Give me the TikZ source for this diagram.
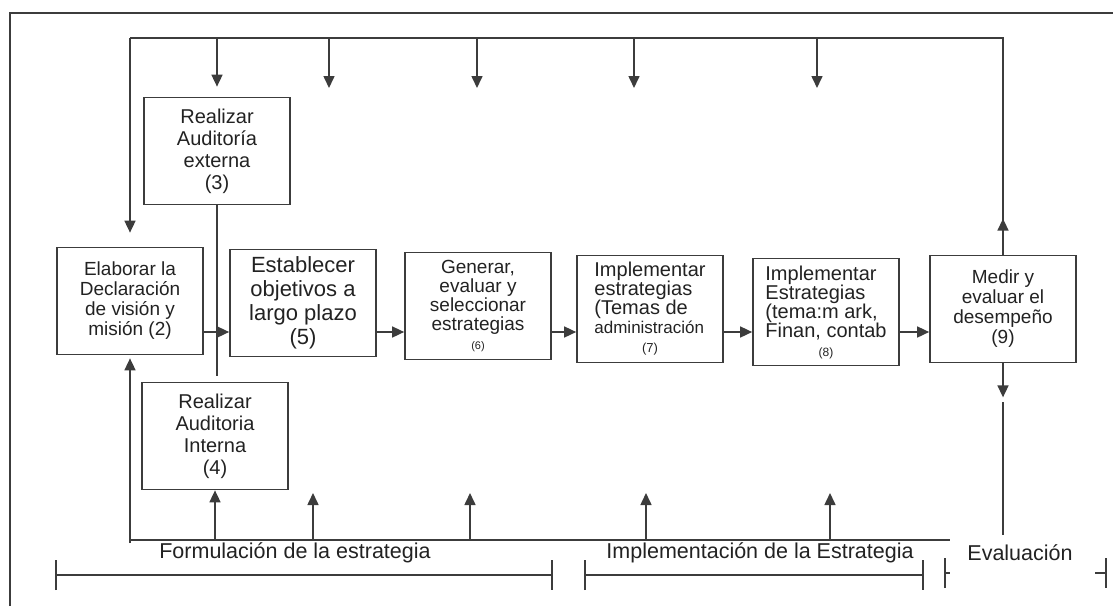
\documentclass[tikz,border=0pt]{standalone}
\usepackage{fontspec}
\setmainfont{Liberation Sans}
\usepackage{xcolor}
\usetikzlibrary{
  positioning,
  calc,
  arrows.meta,
}
\definecolor{linea}{HTML}{3C3C3C}
\definecolor{texto}{HTML}{222222}
\tikzset{
  paso/.style={
    draw=linea,
    line width=1.7pt,
    rectangle,
    minimum width=146pt,
    minimum height=107pt,
    inner sep=2pt,
    align=center,
    text=texto
  },
  flecha/.style={
    draw=linea,
    line width=1.6pt,
    -{Triangle[length=12pt,width=11pt]}
  },
  trazo/.style={
    draw=linea,
    line width=1.6pt
  },
  tramo/.style={
    draw=linea,
    line width=1.6pt,
    {Bar[width=30pt]}-{Bar[width=30pt]}
  },
  etapa/.style={
    font=\fontsize{21.5}{24}\selectfont,
    text=texto,
    inner sep=0pt
  }
}

\begin{document}
\begin{tikzpicture}[x=1pt, y=-1pt]
  \useasboundingbox (0,0) rectangle (1113,606);
  \draw[trazo, line width=2pt] (10,606) -- (10,13) -- (1113,13);

  % pasos
  \node[paso, font=\fontsize{19}{20}\selectfont]   (dec) at (130,301) {Elaborar la\\Declaración\\de visión y\\misión (2)};
  \node[paso, font=\fontsize{20}{22}\selectfont]   (ext) at (217,151) {Realizar\\Auditoría\\externa\\(3)};
  \node[paso, font=\fontsize{20}{22}\selectfont]   (int) at (215,436) {Realizar\\Auditoria\\Interna\\(4)};
  \node[paso, font=\fontsize{22}{24}\selectfont]   (obj) at (303,303) {Establecer\\objetivos a\\largo plazo\\(5)};
  \node[paso, font=\fontsize{19}{19}\selectfont]   (gen) at (478,306) {Generar,\\evaluar y\\seleccionar\\estrategias\\{\fontsize{11}{13}\selectfont (6)}};
  \node[paso, align=left, font=\fontsize{20}{19}\selectfont] (imp) at (650,309) {Implementar\\estrategias\\(Temas de\\{\fontsize{17}{19}\selectfont administración}\\\hspace*{\fill}{\fontsize{13}{14}\selectfont (7)}\hspace*{\fill}};
  \node[paso, align=left, font=\fontsize{20}{19}\selectfont] (fin) at (826,312) {Implementar\\Estrategias\\(tema:m ark,\\Finan, contab\\\hspace*{\fill}{\fontsize{12}{13}\selectfont (8)}\hspace*{\fill}};
  \node[paso, font=\fontsize{19}{20}\selectfont]   (med) at (1003,309) {Medir y\\evaluar el\\desempeño\\(9)};

  % etapas
  \node[etapa] (formul) at (295,553) {Formulación de la estrategia};
  \node[etapa] (implem) at (760,553) {Implementación de la Estrategia};
  \node[etapa] (evalua) at (1020,553) {Evaluación};

  \coordinate (flujo)  at (0,332);
  \coordinate (arriba) at (130,38);
  \coordinate (abajo)  at (130,540);
  \coordinate (finarr) at (1003,38);
  \coordinate (finaba) at (950,540);
  \coordinate (evalfin) at (1003,535);

  % flujo principal
  \draw[flecha] (dec.east |- flujo) -- (obj.west |- flujo);
  \draw[flecha] (obj.east |- flujo) -- (gen.west |- flujo);
  \draw[flecha] (gen.east |- flujo) -- (imp.west |- flujo);
  \draw[flecha] (imp.east |- flujo) -- (fin.west |- flujo);
  \draw[flecha] (fin.east |- flujo) -- (med.west |- flujo);
  \draw[trazo, shorten >=6pt] (ext.south) -- (ext.south |- int.north);

  % retroalimentacion arriba
  \draw[trazo] (med.north) -- (finarr) -- (arriba);
  \draw[flecha] (med.north) -- ++(0,-36);
  \draw[flecha, shorten >=14pt] (arriba) -- (dec.north);
  \draw[flecha, shorten >=10pt] (arriba -| ext.north) -- (ext.north);
  \foreach \x in {329,477,634,817}{
    \coordinate (baja\x) at (\x,88);
    \draw[flecha] (arriba -| baja\x) -- (baja\x);
  }

  % retroalimentacion abajo
  \draw[trazo] ($(abajo)+(0,3)$) -- (abajo) -- (finaba);
  \draw[flecha, shorten >=3pt] (abajo) -- (dec.south);
  \draw[flecha] (abajo -| int.south) -- (int.south);
  \foreach \x in {313,470,646,830}{
    \coordinate (sube\x) at (\x,493);
    \draw[flecha] (abajo -| sube\x) -- (sube\x);
  }
  \draw[flecha] (med.south) -- ++(0,34);
  \draw[trazo] ($(med.south)+(0,39)$) -- (evalfin);

  % tramos
  \draw[tramo] (55,575) -- (553,575);
  \draw[tramo] (584,575) -- (924,575);
  \draw[trazo, {Bar[width=30pt]}-] (944,573) -- (950,573);
  \draw[trazo, -{Bar[width=30pt]}] (1095,573) -- (1107,573);
\end{tikzpicture}
\end{document}
